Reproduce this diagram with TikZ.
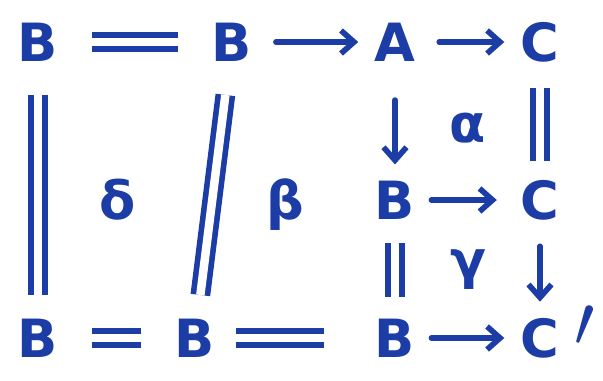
\documentclass[tikz,border=0pt]{standalone}
\usepackage{graphicx}
\usepackage{fontspec}
\setmainfont{DejaVu Sans}
\usetikzlibrary{arrows.meta}
\definecolor{Ink}{HTML}{1C3CA6}
\tikzset{
  obj/.style={text=Ink,font=\fontsize{30}{34}\selectfont\bfseries,inner sep=.32cm},
  cell/.style={text=Ink,font=\fontsize{30}{34}\selectfont\bfseries},
  eqline/.style={draw=Ink,line width=3.2pt,double=white,double distance=.17cm,shorten <=.35cm,shorten >=.35cm},
  morph/.style={-{Straight Barb[length=2.6mm,width=4.6mm,line width=3.2pt]},draw=Ink,line width=3.2pt,line cap=round}
}
\begin{document}
\begin{tikzpicture}[x=.02cm,y=-.02cm]
  \useasboundingbox (0,0) rectangle (603,380);
  % top row
  \node[obj] (b1) at (38,42) {B};
  \node[obj] (b2) at (232,42) {B};
  \node[obj] (a) at (395,42) {A};
  \node[obj] (c1) at (540,42) {C};
  % middle row
  \node[obj] (b3) at (395,200) {B};
  \node[obj] (c2) at (540,200) {C};
  % bottom row
  \node[obj] (b4) at (38,338) {B};
  \node[obj] (b5) at (195,338) {B};
  \node[obj] (b6) at (395,338) {B};
  \node[obj] (c3) at (540,338) {C};
  \node[text=Ink,font=\fontsize{20}{24}\selectfont,inner sep=0pt] (pr) at (585,326) {\scalebox{2}{$\prime$}};
  % 2-cells
  \node[cell] (d) at (118,200) {δ};
  \node[cell] (bt) at (285,205) {β};
  \node[cell] (al) at (468,128) {α};
  \node[cell] (ga) at (468,270) {γ};
  % connectors
  \draw[eqline] (b1) -- (b2);
  \draw[morph,shorten <=.15cm] (b2) -- (a);
  \draw[morph,shorten <=.15cm] (a) -- (c1);
  \draw[eqline,shorten >=.15cm] (b1) -- (b4);
  \draw[eqline,shorten >=.15cm] (b2) -- (b5);
  \draw[morph,shorten <=.45cm] (a) -- (b3);
  \draw[eqline,shorten <=.2cm,shorten >=.05cm] (c1) -- (c2);
  \draw[morph,shorten >=.15cm] (b3) -- (c2);
  \draw[eqline,shorten <=.15cm,shorten >=.1cm] (b3) -- (b6);
  \draw[morph,shorten <=.2cm] (c2) -- (c3);
  \draw[eqline] (b4) -- (b5);
  \draw[eqline,shorten <=.1cm,shorten >=.7cm] (b5) -- (b6);
  \draw[morph] (b6) -- (c3);
\end{tikzpicture}
\end{document}
